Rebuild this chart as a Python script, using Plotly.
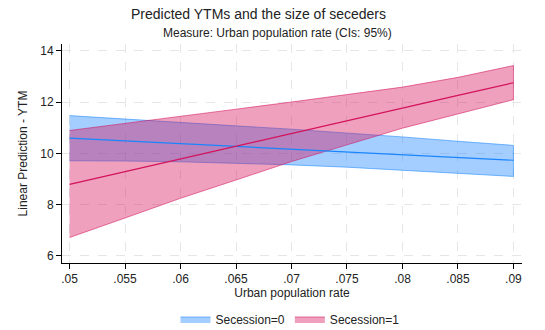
import plotly.graph_objects as go

x_vals = [0.05, 0.055, 0.06, 0.065, 0.07, 0.075, 0.08, 0.085, 0.09]
x_ticktext = [".05", ".055", ".06", ".065", ".07", ".075", ".08", ".085", ".09"]
y_ticks = [6, 8, 10, 12, 14]

sec0_mean = [10.59, 10.48, 10.38, 10.27, 10.16, 10.05, 9.95, 9.84, 9.73]
sec0_upper = [11.47, 11.33, 11.20, 11.07, 10.94, 10.80, 10.64, 10.47, 10.31]
sec0_lower = [9.71, 9.70, 9.67, 9.62, 9.55, 9.46, 9.35, 9.23, 9.10]

sec1_mean = [8.79, 9.29, 9.78, 10.28, 10.77, 11.27, 11.76, 12.26, 12.75]
sec1_upper = [10.89, 11.16, 11.44, 11.72, 12.00, 12.28, 12.58, 12.96, 13.42]
sec1_lower = [6.72, 7.48, 8.25, 8.96, 9.68, 10.33, 10.98, 11.55, 12.09]

BLUE = "#1a85ff"
RED = "#d41159"

fig = go.Figure()

fig.add_trace(go.Scatter(
    x=x_vals + x_vals[::-1], y=sec0_upper + sec0_lower[::-1],
    fill="toself", fillcolor="rgba(26,133,255,0.4)",
    line=dict(color="rgba(26,133,255,0.55)", width=1),
    mode="lines", name="Secession=0", hoverinfo="skip"))
fig.add_trace(go.Scatter(
    x=x_vals + x_vals[::-1], y=sec1_upper + sec1_lower[::-1],
    fill="toself", fillcolor="rgba(212,17,89,0.4)",
    line=dict(color="rgba(212,17,89,0.55)", width=1),
    mode="lines", name="Secession=1", hoverinfo="skip"))
fig.add_trace(go.Scatter(x=x_vals, y=sec0_mean, mode="lines",
                         line=dict(color=BLUE, width=1.2), showlegend=False))
fig.add_trace(go.Scatter(x=x_vals, y=sec1_mean, mode="lines",
                         line=dict(color=RED, width=1.2), showlegend=False))

font_family = "Liberation Sans, Arial, sans-serif"

W, H = 545, 330
# plot area edges in window pixels (reference)
PL, PR, PT, PB = 62, 522, 44, 263
L, R, T, B = PL, W - PR, PT, H - PB
pw = W - L - R
ph = H - T - B


def px_to_paper(px, py):
    return (px - PL) / pw, (PB - py) / ph


tx, ty = px_to_paper(258, 13.5)
sx, sy = px_to_paper(277, 33)
lx, ly = px_to_paper(290, 319)

fig.update_layout(
    width=W, height=H,
    margin=dict(l=L, r=R, t=T, b=B, autoexpand=False),
    paper_bgcolor="white", plot_bgcolor="white",
    font=dict(family=font_family, size=12, color="#222222"),
    showlegend=True,
    hovermode=False,
    legend=dict(orientation="h", x=lx, xanchor="center", y=ly, yanchor="middle",
                font=dict(size=12), itemwidth=30, tracegroupgap=20),
    annotations=[
        dict(text="Predicted YTMs and the size of seceders", x=tx, xref="paper",
             y=ty, yref="paper", showarrow=False, xanchor="center", yanchor="middle",
             font=dict(size=14, color="#222222")),
        dict(text="Measure: Urban population rate (CIs: 95%)", x=sx, xref="paper",
             y=sy, yref="paper", showarrow=False, xanchor="center", yanchor="middle",
             font=dict(size=12, color="#222222")),
    ],
)

fig.update_xaxes(
    range=[0.04932, 0.09077], tickvals=x_vals, ticktext=x_ticktext,
    showgrid=True, gridcolor="#e6e6e6", griddash="dash", gridwidth=1,
    showline=True, linecolor="black", linewidth=1,
    ticks="outside", ticklen=5, tickcolor="black",
    zeroline=False, automargin=False,
    title=dict(text="Urban population rate", font=dict(size=12), standoff=2),
)
fig.update_yaxes(
    range=[5.727, 14.26], tickvals=y_ticks,
    showgrid=True, gridcolor="#e6e6e6", griddash="dash", gridwidth=1,
    showline=True, linecolor="black", linewidth=1,
    ticks="outside", ticklen=5, tickcolor="black",
    zeroline=False, automargin=False,
    title=dict(text="Linear Prediction - YTM", font=dict(size=12), standoff=10),
)

# remove the browser's default 8px body margin so the figure fills the window
fig.write_html("out.html",
               config={"displayModeBar": False},
               post_script="document.body.style.margin='0';document.body.style.overflow='hidden';")
